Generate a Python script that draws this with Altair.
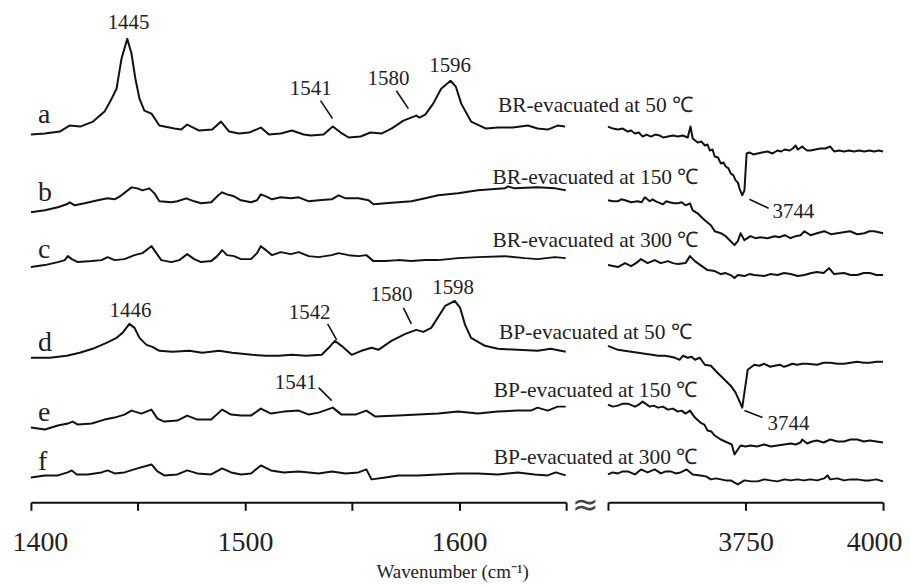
import altair as alt
import pandas as pd

SERIF = "Liberation Serif"
INK = "#111111"

# ---------------- spectra: (wavenumber cm-1, stacked absorbance a.u.) ----------------
A_LEFT = [(1400, 3.69), (1406.5, 3.70), (1413.5, 3.72), (1418, 3.78), (1423, 3.77), (1429, 3.82),
          (1434.4, 3.92), (1437.7, 4.05), (1440, 4.15), (1442.3, 4.45), (1445, 4.65), (1447, 4.50),
          (1448.8, 4.25), (1450.7, 4.05), (1453, 3.93), (1456.3, 3.90), (1460, 3.78), (1467, 3.75),
          (1470.2, 3.74), (1473, 3.79), (1478.6, 3.73), (1484.7, 3.74), (1488.8, 3.82), (1492.6, 3.72),
          (1497.2, 3.70), (1501.9, 3.71), (1507.4, 3.76), (1511.2, 3.69), (1516.7, 3.70), (1521.9, 3.73),
          (1527.4, 3.69), (1530.7, 3.68), (1536.7, 3.69), (1541, 3.77), (1544.7, 3.71), (1548.4, 3.66),
          (1554, 3.67), (1558.6, 3.71), (1563.7, 3.70), (1568.4, 3.75), (1574, 3.83), (1580, 3.88),
          (1581.5, 3.86), (1584.2, 3.89), (1587.9, 4.00), (1591.6, 4.15), (1596, 4.23), (1598.5, 4.17),
          (1601, 4.00), (1605.6, 3.82), (1612.6, 3.75), (1618.1, 3.76), (1625.1, 3.76), (1632.1, 3.78),
          (1636.7, 3.75), (1641.4, 3.74), (1646, 3.78), (1649.5, 3.77)]
A_RIGHT = [(3500, 3.77), (3509, 3.75), (3518, 3.74), (3527, 3.75), (3536, 3.72), (3542, 3.73), (3549, 3.70),
           (3556, 3.71), (3563, 3.67), (3570, 3.69), (3578, 3.67), (3586, 3.69), (3594, 3.68), (3601, 3.66),
           (3609, 3.67), (3618, 3.68), (3627, 3.67), (3636, 3.68), (3645, 3.66), (3650, 3.77), (3654, 3.65),
           (3663, 3.61), (3670, 3.62), (3676, 3.58), (3681, 3.59), (3685, 3.53), (3690, 3.54), (3694, 3.47),
           (3700, 3.46), (3705, 3.40), (3710, 3.41), (3714, 3.37), (3719, 3.35), (3723, 3.30), (3728, 3.28),
           (3732, 3.23), (3736, 3.21), (3739, 3.15), (3744, 3.08), (3748, 3.13), (3752, 3.50), (3757, 3.51),
           (3764, 3.49), (3772, 3.50), (3780, 3.51), (3790, 3.52), (3799, 3.50), (3808, 3.53), (3815, 3.52),
           (3821, 3.54), (3830, 3.53), (3836, 3.55), (3841, 3.58), (3845, 3.54), (3848, 3.55), (3853, 3.57),
           (3857, 3.55), (3862, 3.53), (3868, 3.53), (3877, 3.54), (3886, 3.55), (3895, 3.55), (3904, 3.57),
           (3911, 3.52), (3920, 3.53), (3929, 3.52), (3938, 3.53), (3947, 3.52), (3957, 3.53), (3966, 3.52),
           (3975, 3.53), (3984, 3.52), (3992, 3.53), (4000, 3.52)]

B_LEFT = [(1400, 2.91), (1406.5, 2.93), (1412.6, 2.96), (1416.7, 2.99), (1418.1, 3.01), (1420.5, 2.98),
          (1425.1, 3.00), (1431.2, 3.03), (1435.8, 3.05), (1439.1, 3.04), (1442.3, 3.08), (1447, 3.16),
          (1449.8, 3.15), (1452.1, 3.13), (1455.3, 3.15), (1457.7, 3.10), (1460, 3.02), (1465.6, 3.01),
          (1468.4, 3.02), (1472.6, 3.05), (1476.3, 3.02), (1479.5, 3.00), (1484.2, 3.01), (1487, 3.07),
          (1489.3, 3.11), (1491.6, 3.09), (1494.9, 3.07), (1498.1, 3.03), (1502.8, 3.01), (1505.6, 3.03),
          (1507.4, 3.09), (1509.8, 3.07), (1512.6, 3.04), (1516.7, 3.06), (1521.4, 3.05), (1525.1, 3.06),
          (1529.8, 3.02), (1534.4, 3.03), (1540.5, 3.04), (1543.7, 3.08), (1547, 3.05), (1553, 3.05),
          (1557.7, 3.03), (1560, 2.99), (1565.6, 3.00), (1571.6, 3.01), (1577.7, 3.02), (1584.2, 3.05),
          (1590.2, 3.08), (1599.5, 3.10), (1608.8, 3.13), (1621.4, 3.15), (1622.8, 3.17), (1626, 3.15),
          (1636.7, 3.16), (1645, 3.15), (1649.8, 3.13)]
B_RIGHT = [(3500, 3.03), (3509, 3.02), (3518, 3.02), (3524, 3.04), (3531, 3.03), (3542, 3.01), (3554, 3.02),
           (3561, 3.01), (3567, 3.06), (3576, 3.02), (3581, 3.04), (3587, 3.02), (3600, 2.99), (3606, 3.02),
           (3612, 3.01), (3620, 3.00), (3627, 3.00), (3634, 3.01), (3641, 2.98), (3649, 3.00), (3654, 2.93),
           (3663, 2.90), (3670, 2.86), (3676, 2.83), (3687, 2.78), (3694, 2.72), (3705, 2.70), (3714, 2.67),
           (3723, 2.62), (3730, 2.58), (3736, 2.62), (3741, 2.70), (3748, 2.63), (3759, 2.67), (3768, 2.65),
           (3777, 2.66), (3790, 2.65), (3803, 2.67), (3812, 2.66), (3821, 2.68), (3832, 2.65), (3841, 2.67),
           (3850, 2.68), (3857, 2.72), (3868, 2.68), (3880, 2.70), (3893, 2.72), (3905, 2.69), (3917, 2.70),
           (3928, 2.71), (3940, 2.72), (3953, 2.69), (3966, 2.70), (3975, 2.72), (3984, 2.72), (4000, 2.70)]

C_LEFT = [(1400, 2.36), (1406.5, 2.38), (1412.6, 2.41), (1415.8, 2.43), (1417.2, 2.47), (1419.1, 2.44),
          (1421.9, 2.41), (1428.4, 2.42), (1433, 2.43), (1435.8, 2.46), (1439.1, 2.43), (1443.7, 2.44),
          (1448.4, 2.48), (1452.1, 2.50), (1456.3, 2.57), (1458.6, 2.50), (1460.9, 2.43), (1465.6, 2.41),
          (1469.3, 2.43), (1473, 2.49), (1476.3, 2.44), (1479.5, 2.41), (1484.2, 2.42), (1487, 2.47),
          (1489.3, 2.53), (1491.6, 2.48), (1494.9, 2.47), (1498.1, 2.44), (1502.8, 2.44), (1505.6, 2.50),
          (1507.4, 2.57), (1509.8, 2.53), (1512.6, 2.48), (1516.7, 2.51), (1521.4, 2.49), (1525.1, 2.51),
          (1529.8, 2.47), (1534.4, 2.46), (1540.5, 2.48), (1543.7, 2.50), (1548.4, 2.48), (1553, 2.47),
          (1556.7, 2.48), (1560, 2.42), (1565.6, 2.42), (1571.6, 2.43), (1577.7, 2.42), (1584.2, 2.43),
          (1590.2, 2.43), (1599.5, 2.45), (1608.8, 2.46), (1621.4, 2.47), (1630.7, 2.45), (1636.7, 2.44),
          (1644.7, 2.46), (1649.8, 2.45)]
C_RIGHT = [(3500, 2.38), (3509, 2.37), (3518, 2.36), (3531, 2.40), (3542, 2.37), (3551, 2.40), (3560, 2.44),
           (3572, 2.40), (3585, 2.43), (3596, 2.40), (3609, 2.42), (3618, 2.40), (3627, 2.39), (3641, 2.40),
           (3649, 2.47), (3658, 2.42), (3668, 2.38), (3681, 2.33), (3694, 2.32), (3705, 2.29), (3714, 2.30),
           (3723, 2.28), (3730, 2.25), (3736, 2.28), (3748, 2.27), (3757, 2.29), (3766, 2.28), (3784, 2.27),
           (3795, 2.29), (3808, 2.28), (3820, 2.30), (3832, 2.29), (3845, 2.27), (3857, 2.28), (3870, 2.30),
           (3880, 2.31), (3892, 2.30), (3902, 2.35), (3911, 2.29), (3929, 2.30), (3941, 2.28), (3953, 2.28),
           (3965, 2.30), (3976, 2.30), (3988, 2.28), (4000, 2.28)]

D_LEFT = [(1400, 1.45), (1408.8, 1.45), (1416.7, 1.47), (1422.8, 1.50), (1428.8, 1.54), (1435.3, 1.60),
          (1440, 1.65), (1442.8, 1.70), (1446, 1.79), (1448.4, 1.75), (1450.7, 1.65), (1454, 1.58),
          (1456.7, 1.56), (1460, 1.52), (1466, 1.51), (1474, 1.52), (1480, 1.50), (1487.9, 1.52),
          (1494, 1.50), (1503.3, 1.48), (1509.8, 1.47), (1515.8, 1.47), (1521.9, 1.48), (1528.4, 1.47),
          (1535.8, 1.48), (1539.1, 1.55), (1542, 1.62), (1545.1, 1.57), (1549.8, 1.48), (1554.4, 1.52),
          (1559.1, 1.55), (1562.3, 1.53), (1568.4, 1.62), (1574.9, 1.69), (1580, 1.73), (1583.3, 1.71),
          (1587, 1.75), (1593.5, 1.97), (1598, 2.02), (1600.5, 1.95), (1602.8, 1.78), (1605.6, 1.65),
          (1612.1, 1.57), (1618.1, 1.54), (1627.4, 1.53), (1636.7, 1.52), (1642.8, 1.54), (1649.8, 1.51)]
D_RIGHT = [(3500, 1.57), (3509, 1.55), (3518, 1.53), (3530, 1.52), (3542, 1.51), (3555, 1.50), (3567, 1.49),
           (3580, 1.48), (3591, 1.47), (3603, 1.47), (3614, 1.46), (3622, 1.45), (3630, 1.43), (3636, 1.47),
           (3645, 1.45), (3652, 1.46), (3658, 1.43), (3667, 1.45), (3676, 1.38), (3687, 1.37), (3699, 1.30),
           (3712, 1.23), (3723, 1.17), (3732, 1.10), (3744, 0.95), (3748, 1.10), (3754, 1.33), (3766, 1.38),
           (3775, 1.37), (3784, 1.39), (3795, 1.36), (3803, 1.37), (3813, 1.38), (3820, 1.36), (3826, 1.37),
           (3835, 1.39), (3844, 1.38), (3853, 1.39), (3862, 1.39), (3880, 1.38), (3892, 1.40), (3904, 1.40),
           (3917, 1.39), (3929, 1.39), (3941, 1.40), (3953, 1.41), (3965, 1.40), (3976, 1.40), (3988, 1.41),
           (4000, 1.41)]

E_LEFT = [(1400, 0.75), (1406.5, 0.73), (1412.6, 0.77), (1417.2, 0.79), (1419.5, 0.81), (1421.9, 0.78),
          (1428.4, 0.79), (1434.4, 0.83), (1439.1, 0.85), (1443.7, 0.88), (1447, 0.92), (1451.6, 0.89),
          (1456.3, 0.93), (1459.1, 0.84), (1462.3, 0.81), (1468.4, 0.82), (1473, 0.87), (1477.7, 0.83),
          (1484.2, 0.83), (1489.3, 0.93), (1493.5, 0.88), (1498.1, 0.87), (1502.8, 0.87), (1507.4, 0.94),
          (1512.1, 0.89), (1518.1, 0.91), (1525.1, 0.92), (1529.8, 0.88), (1534.4, 0.90), (1541, 0.95),
          (1545.1, 0.88), (1551.6, 0.88), (1556.7, 0.92), (1560.9, 0.86), (1571.6, 0.87), (1580.9, 0.88),
          (1590.2, 0.89), (1599.5, 0.91), (1608.8, 0.89), (1618.1, 0.91), (1627.4, 0.92), (1633.5, 0.92),
          (1636.7, 0.95), (1641.4, 0.92), (1646, 0.96), (1649.8, 0.96)]
E_RIGHT = [(3500, 0.98), (3509, 0.96), (3518, 0.97), (3527, 0.99), (3536, 0.99), (3549, 0.96), (3556, 0.98),
           (3563, 1.01), (3576, 0.96), (3583, 0.97), (3591, 0.95), (3600, 0.96), (3609, 0.93), (3618, 0.94),
           (3627, 0.91), (3634, 0.92), (3641, 0.89), (3649, 0.92), (3658, 0.85), (3668, 0.80), (3675, 0.78),
           (3681, 0.72), (3688, 0.71), (3694, 0.67), (3705, 0.63), (3717, 0.60), (3725, 0.58), (3730, 0.48),
           (3736, 0.53), (3741, 0.57), (3750, 0.56), (3759, 0.57), (3771, 0.56), (3784, 0.58), (3796, 0.56),
           (3808, 0.57), (3820, 0.58), (3832, 0.59), (3841, 0.58), (3850, 0.60), (3853, 0.63), (3862, 0.59),
           (3871, 0.61), (3880, 0.62), (3892, 0.60), (3904, 0.63), (3917, 0.61), (3929, 0.61), (3941, 0.63),
           (3953, 0.63), (3965, 0.61), (3976, 0.62), (3988, 0.61), (4000, 0.60)]

F_LEFT = [(1400, 0.25), (1406.5, 0.27), (1412.6, 0.27), (1417.2, 0.30), (1419.1, 0.32), (1421.4, 0.28),
          (1426.5, 0.28), (1433, 0.30), (1435.8, 0.32), (1439.1, 0.29), (1443.7, 0.30), (1449.8, 0.34),
          (1456.3, 0.38), (1459.1, 0.31), (1462.3, 0.27), (1468.4, 0.28), (1473, 0.32), (1477.7, 0.29),
          (1484.2, 0.28), (1489.3, 0.34), (1493.5, 0.30), (1498.1, 0.28), (1502.8, 0.29), (1507.4, 0.37),
          (1512.1, 0.32), (1518.1, 0.30), (1525.1, 0.31), (1529.8, 0.30), (1534.4, 0.29), (1540.5, 0.31),
          (1547, 0.29), (1553, 0.30), (1556.7, 0.33), (1559.1, 0.23), (1565.6, 0.25), (1571.6, 0.27),
          (1580.9, 0.27), (1590.2, 0.28), (1599.5, 0.29), (1608.8, 0.29), (1618.1, 0.28), (1627.4, 0.30),
          (1635.3, 0.28), (1641.4, 0.27), (1645.1, 0.30), (1649.8, 0.27)]
F_RIGHT = [(3500, 0.28), (3509, 0.30), (3518, 0.29), (3527, 0.31), (3536, 0.31), (3549, 0.28), (3560, 0.33),
           (3572, 0.30), (3585, 0.33), (3596, 0.29), (3605, 0.31), (3614, 0.31), (3623, 0.29), (3632, 0.30),
           (3643, 0.33), (3654, 0.28), (3668, 0.27), (3678, 0.26), (3687, 0.23), (3696, 0.24), (3705, 0.23),
           (3714, 0.22), (3723, 0.22), (3736, 0.18), (3748, 0.22), (3760, 0.21), (3772, 0.21), (3784, 0.23),
           (3795, 0.22), (3808, 0.21), (3821, 0.23), (3832, 0.22), (3844, 0.23), (3856, 0.22), (3868, 0.23),
           (3880, 0.22), (3893, 0.24), (3899, 0.27), (3904, 0.23), (3917, 0.24), (3929, 0.22), (3941, 0.23),
           (3953, 0.23), (3965, 0.22), (3976, 0.22), (3988, 0.23), (4000, 0.21)]

TRACES_LEFT = {"a": A_LEFT, "b": B_LEFT, "c": C_LEFT, "d": D_LEFT, "e": E_LEFT, "f": F_LEFT}
TRACES_RIGHT = {"a": A_RIGHT, "b": B_RIGHT, "c": C_RIGHT, "d": D_RIGHT, "e": E_RIGHT, "f": F_RIGHT}

# ---------------- annotations ----------------
TRACE_LETTERS = ["a", "b", "c", "d", "e", "f"]
LETTER_POS = [(1403.3, 3.81), (1403.3, 3.02), (1403.3, 2.45), (1403.3, 1.52), (1403.3, 0.82), (1403.3, 0.32)]

CONDITIONS = ["BR-evacuated at 50 ℃", "BR-evacuated at 150 ℃", "BR-evacuated at 300 ℃",
              "BP-evacuated at 50 ℃", "BP-evacuated at 150 ℃", "BP-evacuated at 300 ℃"]
CONDITION_POS = [(1663.7, 3.98), (1663.7, 3.25), (1663.7, 2.62), (1663.7, 1.70), (1663.7, 1.12), (1663.7, 0.44)]

PEAK_TEXT_LEFT = ["1445", "1541", "1580", "1596", "1446", "1542", "1580", "1598", "1541"]
PEAK_POS_LEFT = [(1445.6, 4.81), (1530.7, 4.15), (1567.0, 4.25), (1595.8, 4.38),
                 (1446.5, 1.92), (1530.2, 1.90), (1568.4, 2.08), (1597.2, 2.15), (1523.7, 1.20)]
LEADERS_LEFT = [(1535.3, 4.03, 1540.9, 3.85), (1570.7, 4.13, 1576.3, 3.95),
                (1538.6, 1.79, 1542.8, 1.63), (1574.0, 1.95, 1577.7, 1.79),
                (1534.4, 1.15, 1540.5, 1.02)]

PEAK_TEXT_RIGHT = ["3744", "3744"]
PEAK_POS_RIGHT = [(3799, 2.91), (3790, 0.79)]
LEADERS_RIGHT = [(3757, 3.04, 3792, 2.95), (3748, 0.92, 3781, 0.85)]

LEFT_TICKS = [1400, 1450, 1500, 1550, 1600, 1650]
RIGHT_TICKS = [3500, 3750, 4000]
X_TITLE = "Wavenumber (cm⁻¹)"

# ---------------- tables ----------------
def trace_frame(traces):
    rows = []
    for name, pts in traces.items():
        for wn, ab in pts:
            rows.append({"trace": name, "wn": wn, "ab": ab})
    return pd.DataFrame(rows)

left_df = trace_frame(TRACES_LEFT)
right_df = trace_frame(TRACES_RIGHT)

letters_df = pd.DataFrame({"t": TRACE_LETTERS, "wn": [p[0] for p in LETTER_POS], "ab": [p[1] for p in LETTER_POS]})
cond_df = pd.DataFrame({"t": CONDITIONS, "wn": [p[0] for p in CONDITION_POS], "ab": [p[1] for p in CONDITION_POS]})
peakL_df = pd.DataFrame({"t": PEAK_TEXT_LEFT, "wn": [p[0] for p in PEAK_POS_LEFT], "ab": [p[1] for p in PEAK_POS_LEFT]})
peakR_df = pd.DataFrame({"t": PEAK_TEXT_RIGHT, "wn": [p[0] for p in PEAK_POS_RIGHT], "ab": [p[1] for p in PEAK_POS_RIGHT]})
leadL_df = pd.DataFrame(LEADERS_LEFT, columns=["x1", "y1", "x2", "y2"])
leadR_df = pd.DataFrame(LEADERS_RIGHT, columns=["x1", "y1", "x2", "y2"])
break_df = pd.DataFrame({"t": ["≈"], "wn": [1659.0], "ab": [-0.03]})
title_df = pd.DataFrame({"t": [X_TITLE], "wn": [1597.0], "ab": [-0.76]})

YSCALE = alt.Scale(domain=[0, 4.95], nice=False, zero=False)
H = 495

def panel(df, lead_df, peak_df, domain, ticks, label_expr, width, extra=()):
    xs = alt.Scale(domain=domain, nice=False, zero=False)
    axis = alt.Axis(values=ticks, format="d", labelExpr=label_expr, title=None, grid=False,
                    labelFont=SERIF, labelFontSize=28, labelColor="#222222", labelPadding=18,
                    labelFlush=True, labelFlushOffset=19, labelOverlap=False,
                    domainColor=INK, domainWidth=2, tickColor=INK, tickWidth=2, tickSize=8)
    lines = alt.Chart(df).mark_line(color=INK, strokeWidth=2, strokeJoin="round").encode(
        x=alt.X("wn:Q", scale=xs, axis=axis),
        y=alt.Y("ab:Q", scale=YSCALE, axis=None),
        detail="trace:N",
    )
    leaders = alt.Chart(lead_df).mark_rule(color=INK, strokeWidth=1.6).encode(
        x=alt.X("x1:Q", scale=xs), x2="x2:Q", y=alt.Y("y1:Q", scale=YSCALE), y2="y2:Q"
    )
    layers = [lines, leaders]
    if peak_df is not None:
        al = "center" if domain[0] < 2000 else "left"
        layers.append(alt.Chart(peak_df).mark_text(font=SERIF, fontSize=21, color="#222222",
                                                   align=al, baseline="middle").encode(
            x=alt.X("wn:Q", scale=xs), y=alt.Y("ab:Q", scale=YSCALE), text="t:N"))
    for e in extra:
        layers.append(e(xs))
    return alt.layer(*layers).properties(width=width, height=H)

def letters(xs):
    return alt.Chart(letters_df).mark_text(font=SERIF, fontSize=28, color="#222222", align="left",
                                           baseline="alphabetic").encode(
        x=alt.X("wn:Q", scale=xs), y=alt.Y("ab:Q", scale=YSCALE), text="t:N")

def conds(xs):
    return alt.Chart(cond_df).mark_text(font=SERIF, fontSize=21.5, color="#222222", align="center",
                                        baseline="middle").encode(
        x=alt.X("wn:Q", scale=xs), y=alt.Y("ab:Q", scale=YSCALE), text="t:N")

def brk(xs):
    return alt.Chart(break_df).mark_text(font="DejaVu Sans", fontSize=32, color="#444444", align="center",
                                         baseline="middle").encode(
        x=alt.X("wn:Q", scale=xs), y=alt.Y("ab:Q", scale=YSCALE), text="t:N")

def xtitle(xs):
    return alt.Chart(title_df).mark_text(font=SERIF, fontSize=19, color="#222222", align="center",
                                         baseline="alphabetic").encode(
        x=alt.X("wn:Q", scale=xs), y=alt.Y("ab:Q", scale=YSCALE), text="t:N")

left = panel(left_df, leadL_df, peakL_df, [1400, 1650], LEFT_TICKS,
             "datum.value % 100 == 0 ? datum.label : ''", 537,
             extra=(letters, conds, brk, xtitle))
right = panel(right_df, leadR_df, peakR_df, [3500, 4000], RIGHT_TICKS,
              "datum.value == 3500 ? '' : datum.label", 276)

chart = alt.hconcat(left, right, spacing=42, bounds="flush").resolve_scale(x="independent").properties(
    padding={"left": 4, "top": 0, "right": 0, "bottom": 0},
    background="white",
).configure_view(stroke=None, strokeWidth=0)

chart.save("out.html", embed_options={"renderer": "svg", "actions": False})
